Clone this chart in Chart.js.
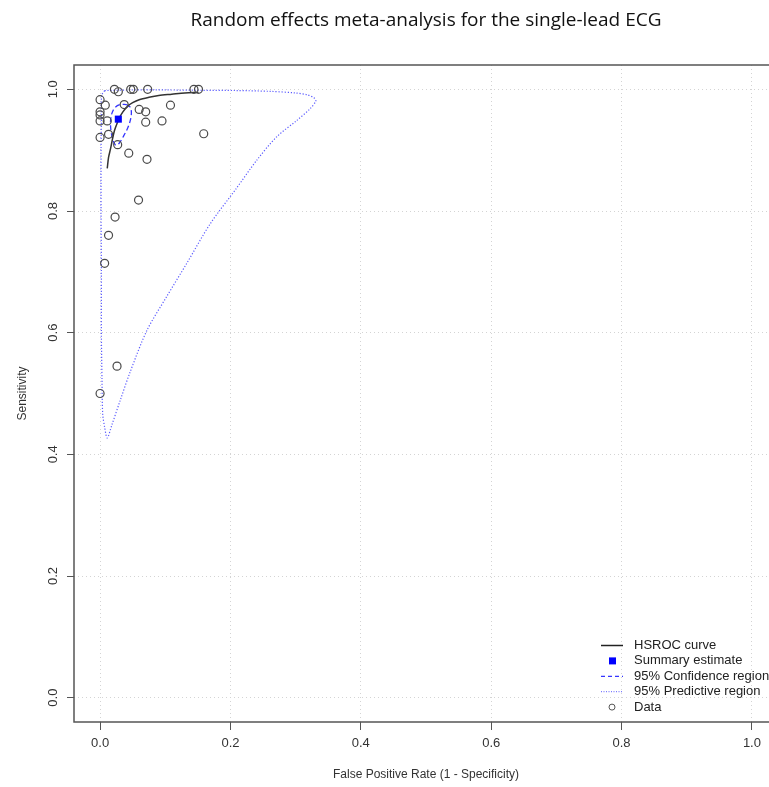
<!DOCTYPE html>
<html>
<head>
<meta charset="utf-8">
<script src="https://cdn.jsdelivr.net/npm/chart.js@4.4.0/dist/chart.umd.min.js"></script>
<style>
    html, body { margin: 0; padding: 0; background: #fff; overflow: hidden; width: 769px; height: 787px; }
    #wrap { position: relative; width: 790px; height: 787px; }
</style>
</head>
<body>
<div id="wrap"><canvas id="sroc-chart" width="790" height="787"></canvas></div>
<script>
const chartTitle = 'Random effects meta-analysis for the single-lead ECG';
const xTitle = 'False Positive Rate (1 - Specificity)';
const yTitle = 'Sensitivity';
const xTicks = [0, 0.2, 0.4, 0.6, 0.8, 1.0];
const yTicks = [0, 0.2, 0.4, 0.6, 0.8, 1.0];

// Data studi (FPR, sensitivity)
const dataFpr  = [0.022, 0.028, 0.047, 0.051, 0.073, 0.144, 0.151, 0.000, 0.008, 0.000, 0.000,
                  0.037, 0.000, 0.011, 0.060, 0.070, 0.108, 0.070, 0.095, 0.159, 0.000, 0.013,
                  0.027, 0.044, 0.072, 0.059, 0.023, 0.013, 0.007, 0.026, 0.000];
const dataSens = [1.000, 0.996, 1.000, 1.000, 1.000, 1.000, 1.000, 0.983, 0.974, 0.963, 0.958,
                  0.975, 0.948, 0.948, 0.967, 0.963, 0.974, 0.946, 0.948, 0.927, 0.921, 0.926,
                  0.909, 0.895, 0.885, 0.818, 0.790, 0.760, 0.714, 0.545, 0.500];

// Summary estimate
const summaryFpr  = [0.028];
const summarySens = [0.951];

// HSROC curve
const hsrocFpr  = [0.011, 0.013, 0.016, 0.019, 0.022, 0.026, 0.030, 0.035, 0.042, 0.050, 0.060,
                   0.075, 0.090, 0.110, 0.130, 0.151];
const hsrocSens = [0.870, 0.888, 0.902, 0.918, 0.932, 0.944, 0.954, 0.963, 0.972, 0.978, 0.983,
                   0.987, 0.990, 0.992, 0.994, 0.995];

// 95% confidence region
const confFpr  = [0.040, 0.046, 0.048, 0.047, 0.043, 0.036, 0.029, 0.024, 0.020, 0.017, 0.016,
                  0.018, 0.023, 0.031, 0.040];
const confSens = [0.975, 0.971, 0.963, 0.952, 0.938, 0.923, 0.911, 0.908, 0.916, 0.930, 0.946,
                  0.960, 0.970, 0.975, 0.975];

// 95% predictive region
const predFpr  = [0.007, 0.050, 0.100, 0.150, 0.210, 0.260, 0.300, 0.318, 0.328, 0.331, 0.322,
                  0.302, 0.271, 0.240, 0.209, 0.169, 0.133, 0.102, 0.072, 0.046, 0.031, 0.018,
                  0.011, 0.007, 0.004, 0.003, 0.002, 0.002, 0.0015, 0.0015, 0.002, 0.0025, 0.007];
const predSens = [0.998, 0.999, 0.999, 0.9985, 0.998, 0.9967, 0.994, 0.991, 0.986, 0.981, 0.968,
                  0.949, 0.922, 0.883, 0.837, 0.779, 0.714, 0.659, 0.604, 0.535, 0.489, 0.448,
                  0.427, 0.4445, 0.467, 0.520, 0.600, 0.700, 0.800, 0.900, 0.950, 0.990, 0.998];

const legendLabels = ['HSROC curve', 'Summary estimate', '95% Confidence region', '95% Predictive region', 'Data'];

const baseFont = 'Liberation Sans';
const predColor = 'rgba(50,50,255,0.8)';
const confColor = '#3535ff';

function toPoints(xs, ys) {
    return xs.map((x, i) => ({ x: x, y: ys[i] }));
}

// Plugin: judul, kotak plot dan legenda
const frame = {
    id: 'frame',
    afterDraw(chart) {
        const ctx = chart.ctx;
        const a = chart.chartArea;
        ctx.save();
        ctx.strokeStyle = '#555';
        ctx.lineWidth = 1.5;
        ctx.strokeRect(a.left, a.top, a.right - a.left, a.bottom - a.top);

        ctx.fillStyle = '#111';
        ctx.font = '19px "Open Sans"';
        ctx.textAlign = 'center';
        ctx.textBaseline = 'alphabetic';
        ctx.fillText(chartTitle, (a.left + a.right) / 2, 26);

        // legenda
        const lx = 601, tx = 634, y0 = 645.5, dy = 15.4;
        ctx.font = '13px "' + baseFont + '"';
        ctx.textAlign = 'left';
        ctx.textBaseline = 'middle';
        legendLabels.forEach((lab, i) => {
            const y = y0 + i * dy;
            ctx.setLineDash([]);
            if (i === 0) {
                ctx.strokeStyle = '#222'; ctx.lineWidth = 1.5;
                ctx.beginPath(); ctx.moveTo(lx, y); ctx.lineTo(lx + 22, y); ctx.stroke();
            } else if (i === 1) {
                ctx.fillStyle = '#0000ff';
                ctx.fillRect(lx + 8, y - 3.5, 7, 7);
            } else if (i === 2) {
                ctx.strokeStyle = confColor; ctx.lineWidth = 1.2; ctx.setLineDash([4, 3]);
                ctx.beginPath(); ctx.moveTo(lx, y); ctx.lineTo(lx + 22, y); ctx.stroke();
            } else if (i === 3) {
                ctx.strokeStyle = predColor; ctx.lineWidth = 1; ctx.setLineDash([1, 1.5]);
                ctx.beginPath(); ctx.moveTo(lx, y); ctx.lineTo(lx + 22, y); ctx.stroke();
            } else {
                ctx.strokeStyle = '#555'; ctx.lineWidth = 1;
                ctx.beginPath(); ctx.arc(lx + 11, y, 3, 0, Math.PI * 2); ctx.stroke();
            }
            ctx.fillStyle = '#222';
            ctx.fillText(lab, tx, y);
        });
        ctx.restore();
    }
};

const tickFont = { family: baseFont, size: 13 };
const titleFont = { family: baseFont, size: 12 };

new Chart(document.getElementById('sroc-chart').getContext('2d'), {
    type: 'scatter',
    data: {
        datasets: [
            {
                label: 'Summary estimate',
                data: toPoints(summaryFpr, summarySens),
                pointStyle: 'rect',
                pointRadius: 5,
                backgroundColor: '#0000ff',
                borderColor: '#0000ff',
                borderWidth: 0
            },
            {
                label: 'Data',
                data: toPoints(dataFpr, dataSens),
                pointStyle: 'circle',
                pointRadius: 4,
                backgroundColor: 'rgba(0,0,0,0)',
                borderColor: '#4a4a4a',
                borderWidth: 1.2
            },
            {
                label: 'HSROC curve',
                data: toPoints(hsrocFpr, hsrocSens),
                showLine: true,
                pointRadius: 0,
                borderColor: '#333',
                borderWidth: 1.5,
                tension: 0.3
            },
            {
                label: '95% Confidence region',
                data: toPoints(confFpr, confSens),
                showLine: true,
                pointRadius: 0,
                borderColor: confColor,
                borderWidth: 1.3,
                borderDash: [5, 3],
                tension: 0.35
            },
            {
                label: '95% Predictive region',
                data: toPoints(predFpr, predSens),
                showLine: true,
                pointRadius: 0,
                borderColor: predColor,
                borderWidth: 1.2,
                borderDash: [1.2, 1.8],
                tension: 0.3
            }
        ]
    },
    options: {
        responsive: false,
        animation: false,
        events: [],
        layout: { padding: { left: 0, top: 65, right: 12, bottom: 0 } },
        scales: {
            x: {
                type: 'linear',
                min: -0.04,
                max: 1.04,
                afterBuildTicks: s => { s.ticks = xTicks.map(v => ({ value: v })); },
                afterFit: s => { s.height = 65; },
                grid: { color: '#d4d4d4', lineWidth: 1, tickColor: '#555', tickLength: 8, tickWidth: 1 },
                border: { display: false, dash: [1, 3] },
                ticks: {
                    font: tickFont, color: '#333', padding: 6, autoSkip: false,
                    minRotation: 0, maxRotation: 0,
                    callback: v => v.toFixed(1)
                },
                title: { display: true, text: xTitle, font: titleFont, color: '#333', padding: { top: 0, bottom: 5 } }
            },
            y: {
                type: 'linear',
                min: -0.04,
                max: 1.04,
                afterBuildTicks: s => { s.ticks = yTicks.map(v => ({ value: v })); },
                afterFit: s => { s.width = 74; },
                grid: { color: '#d4d4d4', lineWidth: 1, tickColor: '#555', tickLength: 7, tickWidth: 1 },
                border: { display: false, dash: [1, 3] },
                ticks: {
                    font: tickFont, color: '#333', padding: 5, autoSkip: false,
                    minRotation: 90, maxRotation: 90, crossAlign: 'center',
                    callback: v => v.toFixed(1)
                },
                title: { display: true, text: yTitle, font: titleFont, color: '#333', padding: { top: 15, bottom: 0 } }
            }
        },
        plugins: {
            legend: { display: false },
            tooltip: { enabled: false },
            title: { display: false }
        }
    },
    plugins: [frame]
});
</script>
</body>
</html>
